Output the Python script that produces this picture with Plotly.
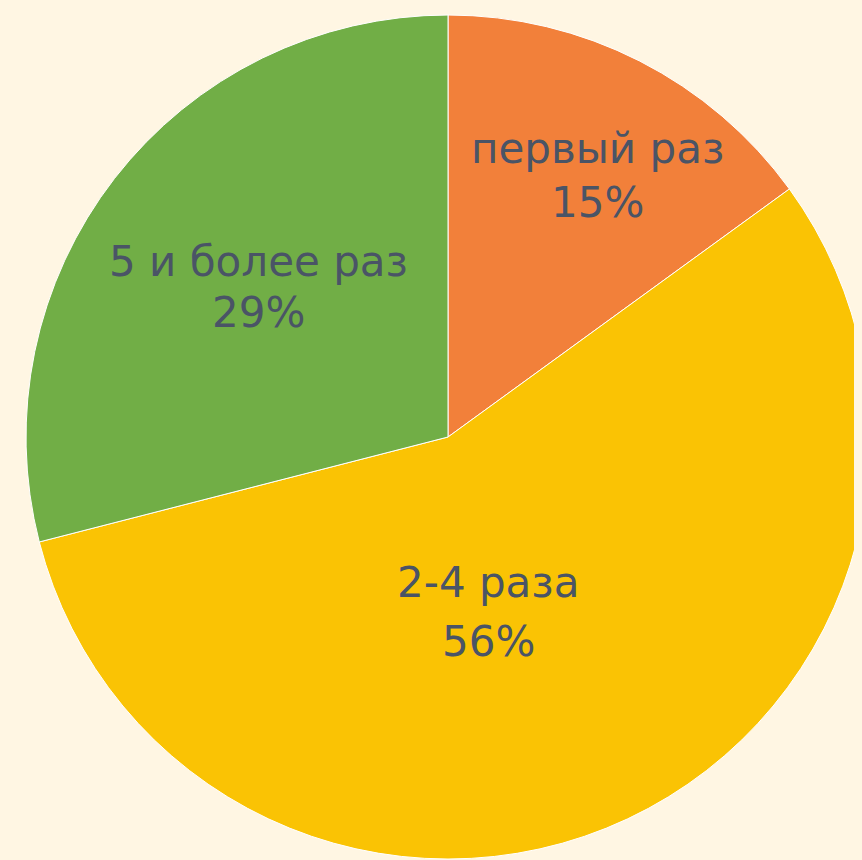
import plotly.graph_objects as go

categories = ["первый раз", "2-4 раза", "5 и более раз"]
values = [15, 56, 29]
colors = ["#F2803A", "#FAC304", "#71AE46"]

# label anchor positions in figure pixels (the page body offsets the figure by 8px)
label_x_px = [597, 488, 258]
name_y_px = [149, 583, 262]
pct_y_px = [203, 642, 314]

W, H = 862, 860
OFF = 8

total = sum(values)

fig = go.Figure(go.Pie(
    labels=categories,
    values=values,
    sort=False,
    direction="clockwise",
    rotation=0,
    marker=dict(colors=colors, line=dict(color="#FFFFFF", width=1)),
    textinfo="none",
    showlegend=False,
    hoverinfo="label+percent",
    domain=dict(x=[0.0209, 1.0], y=[0.0023, 1.0]),
))

font = dict(family="DejaVu Sans", size=42, color="#4A5466")
for i, cat in enumerate(categories):
    fig.add_annotation(x=(label_x_px[i] - OFF) / W, y=1 - (name_y_px[i] - OFF - 1) / H,
                       xref="paper", yref="paper",
                       text=cat, showarrow=False, font=font,
                       xanchor="center", yanchor="middle")
    fig.add_annotation(x=(label_x_px[i] - OFF) / W, y=1 - (pct_y_px[i] - OFF - 1) / H,
                       xref="paper", yref="paper",
                       text=f"{round(values[i] / total * 100)}%", showarrow=False, font=font,
                       xanchor="center", yanchor="middle")

fig.update_layout(
    width=W, height=H,
    margin=dict(l=0, r=0, t=0, b=0),
    paper_bgcolor="#FFF6E3",
    plot_bgcolor="#FFF6E3",
)

fig.write_html(
    "out.html",
    post_script="document.body.style.background='#FFF6E3';document.body.style.overflow='hidden';",
)
